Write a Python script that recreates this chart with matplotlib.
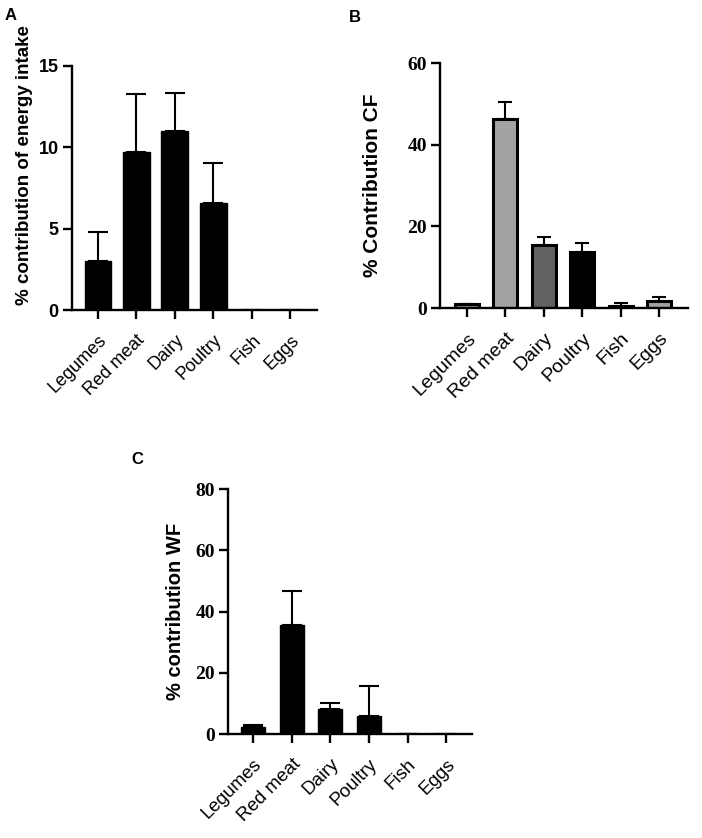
import matplotlib
matplotlib.use("Agg")
import matplotlib.pyplot as plt

# categories shared by all three panels
foods = ["Legumes", "Red meat", "Dairy", "Poultry", "Fish", "Eggs"]

# panel A - % contribution of energy intake
energy_mean = [3.0, 9.7, 11.0, 6.6, 0.0, 0.0]
energy_sd = [1.8, 3.6, 2.35, 2.45, 0.0, 0.0]

# panel B - % contribution CF
cf_mean = [0.9, 46.4, 15.4, 13.7, 0.6, 1.8]
cf_sd = [0.1, 4.0, 1.9, 2.1, 0.7, 0.9]
cf_colors = ["#8c8c8c", "#a3a3a5", "#626262", "#000000", "#8c8c8c", "#a3a3a5"]

# panel C - % contribution WF
wf_mean = [2.2, 35.6, 8.3, 6.0, 0.0, 0.0]
wf_sd = [0.8, 11.1, 1.8, 9.6, 0.0, 0.0]

SANS = "Liberation Sans"
SERIF = "Liberation Serif"

fig = plt.figure(figsize=(7.02, 8.38), dpi=100)
W, H = 702.0, 838.0


def make_axes(left, right, top, bottom):
    # pixel box -> figure fraction
    return fig.add_axes([left / W, 1 - bottom / H, (right - left) / W, (bottom - top) / H])


def style(ax, ylim, yticks, xlim, ylabel, tickfont, ticksize, catsize, labsize, labpos):
    ax.set_xlim(*xlim)
    ax.set_ylim(*ylim)
    ax.set_yticks(yticks)
    ax.set_yticklabels([str(t) for t in yticks], fontfamily=tickfont,
                       fontweight="bold", fontsize=ticksize)
    ax.set_xticks(range(len(foods)))
    ax.set_xticklabels(foods, rotation=45, ha="right", rotation_mode="anchor",
                       fontfamily=SANS, fontsize=catsize)
    for s in ["top", "right"]:
        ax.spines[s].set_visible(False)
    for s in ["left", "bottom"]:
        ax.spines[s].set_linewidth(1.7)
    ax.tick_params(axis="both", width=1.7, length=6.5, pad=3)
    ax.tick_params(axis="x", pad=9)
    ax.set_ylabel(ylabel, fontfamily=SANS, fontweight="bold", fontsize=labsize, va="center")
    ax.yaxis.set_label_coords(*labpos)


x = range(len(foods))

# ---- A
axA = make_axes(72, 317, 66, 310)
axA.bar(x, energy_mean, width=0.7, color="black", edgecolor="black", zorder=2)
axA.errorbar(x, energy_mean, yerr=[[0] * 6, energy_sd], fmt="none", ecolor="black",
             elinewidth=1.5, capsize=7, capthick=1.5, zorder=1)
style(axA, (0, 15), [0, 5, 10, 15], (-0.675, 5.69), "% contribution of energy intake",
      SANS, 13, 13, 13.5, (-0.195, 0.595))

# ---- B
axB = make_axes(440, 688, 63, 308)
axB.bar(x, cf_mean, width=0.62, color=cf_colors, edgecolor="black", linewidth=2.2, zorder=2)
axB.errorbar(x, cf_mean, yerr=[[0] * 6, cf_sd], fmt="none", ecolor="black",
             elinewidth=1.5, capsize=5, capthick=1.5, zorder=1)
style(axB, (0, 60), [0, 20, 40, 60], (-0.70, 5.75), "% Contribution CF",
      SERIF, 14, 14, 15, (-0.274, 0.5))

# ---- C
axC = make_axes(228, 472, 489, 734)
axC.bar(x, wf_mean, width=0.63, color="black", edgecolor="black", zorder=2)
axC.errorbar(x, wf_mean, yerr=[[0] * 6, wf_sd], fmt="none", ecolor="black",
             elinewidth=1.5, capsize=7, capthick=1.5, zorder=1)
style(axC, (0, 80), [0, 20, 40, 60, 80], (-0.65, 5.67), "% contribution WF",
      SERIF, 14, 13.5, 14.5, (-0.217, 0.5))

# panel letters
fig.text(5 / W, 1 - 8 / H, "A", fontfamily=SANS, fontweight="bold", fontsize=12, va="top")
fig.text(349 / W, 1 - 10 / H, "B", fontfamily=SANS, fontweight="bold", fontsize=12, va="top")
fig.text(131 / W, 1 - 452 / H, "C", fontfamily=SANS, fontweight="bold", fontsize=12, va="top")

fig.savefig("out.png", dpi=100)
